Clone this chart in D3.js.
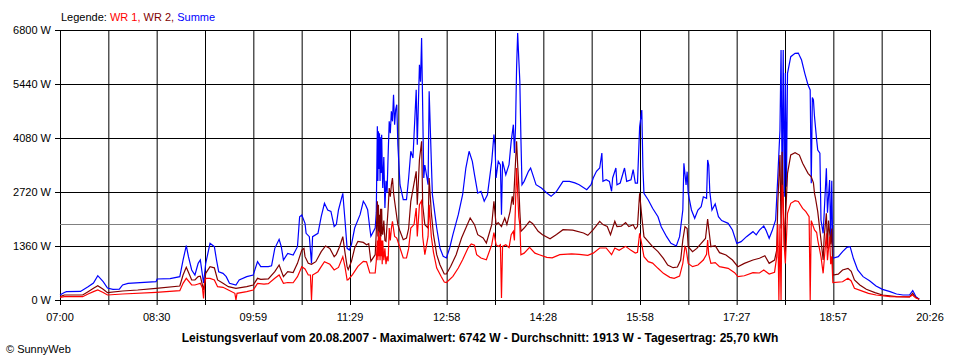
<!DOCTYPE html>
<html>
<head>
<meta charset="utf-8">
<script src="https://cdn.jsdelivr.net/npm/d3@7"></script>
<style>
  body { margin: 0; background: #fff; }
  text { font-family: "Liberation Sans", Arial, sans-serif; }
</style>
</head>
<body>
<div id="vis"></div>
<script>
// Data: [minutes after 07:00, watts]
const summe = [
  [0,126],[4,190],[6,210],[19,215],[26,335],[31,428],[35,613],[40,461],[44,302],[49,270],[55,275],[58,378],[63,420],
  [89,461],[90,529],[102,540],[111,588],[114,1007],[117,1368],[119,1091],[122,756],[125,630],[128,923],[130,1007],[133,428],
  [135,923],[139,1427],[143,1343],[145,1007],[147,713],[151,672],[154,588],[157,420],[163,378],[166,504],[173,588],[179,630],
  [183,965],[186,839],[193,839],[196,860],[199,1301],[203,1528],[205,1343],[207,1007],[211,1175],[216,1133],[220,1343],
  [222,2098],[224,2141],[227,1931],[228,1679],[231,1595],[233,923],[234,1595],[239,1679],[242,2098],[245,2435],[248,2267],
  [251,2230],[254,1847],[256,1900],[258,2267],[262,2687],[264,2015],[266,1301],[268,1259],
  [270,1393],[273,1813],[278,2149],[281,2486],[283,2400],[285,2275],[287,1813],[288,1604],[292,1813],[293,2200],[294,4374],
  [294.5,3000],[295,4250],[295.5,3300],[296,4200],[296.5,3000],[297,4100],[297.5,3200],[298,4164],[298.5,3400],[299,2821],
  [300,3600],[301,2317],[302,3000],[303,2700],[304,3659],[305,4500],[306,4200],[307,4752],[308,4500],[309,5171],[310,4416],
  [311,4800],[312,4919],[313,3911],[315,2904],[318,2526],[321,2526],[323,3073],[325,3745],[327,3576],[330,5297],[331,3911],[333,5926],
  [334,5500],[335,6598],[336,4835],[337,3073],[338,3400],[341,2904],[342,5255],[344,3492],[345,2652],[349,1813],[352,1310],
  [355,1100],[358,1058],[361,1310],[364,1645],[369,2149],[373,2652],[376,3324],[379,3745],[382,3492],[384,3156],[387,2695],
  [390,2737],[393,2486],[396,2650],[400,3492],[402,4164],[403,3900],
  [404,3073],[406,3492],[408,3400],[409,2149],[410,3492],[413,3156],[416,3408],[418,3996],[420,4416],[421,3700],[422,4332],
  [423,5843],[424,6724],[425,6095],[426,5507],[427,4080],[428,2904],[430,2988],[434,3240],[436,3324],[438,3156],[441,2904],
  [446,2821],[451,2695],[455,2611],[460,2737],[466,2988],[472,2988],[477,2950],[481,2904],[488,2778],[492,2904],[494,3073],
  [497,3240],[500,3324],[502,3702],[503,2988],[506,3030],[509,2988],[511,2737],[512,3073],[515,3324],[516,2904],[519,2946],
  [523,3324],[525,2988],[529,3030],[531,3282],[533,2946],[535,2946],[537,4365],
  [539,4785],[540,3357],[541,2687],[545,2518],[549,2309],[554,2098],[557,1847],[562,1595],[566,1427],[571,1360],[574,1595],
  [577,2267],[578,3442],[580,2900],[581,3232],[582,2687],[585,2267],[588,2057],[591,2267],[594,2351],[596,2600],[599,2560],
  [600,3526],[601,3400],[602,2729],[604,2267],[607,2418],[610,2098],[613,2000],[619,1931],[623,1763],[627,1427],[631,1470],
  [636,1595],[642,1721],[645,1640],[648,1760],[652,1864],[654,1760],[657,1553],[660,1763],[663,2015],[665,3105],[667,4281],
  [668,6296],[669,2946],[670,6296],[671,2600],[672,5717],[673,2854],[674,5709],[677,6128],[681,6213],[684,6220],[687,6044],
  [690,5709],[693,5415],[695,5289],[696,2939],[697,5100],[698,5037],[699,4617],[701,4030],[702,3778],[704,3700],[705,2015],
  [707,1679],[708,2200],[710,3316],[711,2200],[713,3022],[714,1511],[715,3000],[716,1050],[721,1091],[725,1217],[729,1327],
  [732,1343],[735,1050],[739,756],[744,588],[750,487],[756,353],[762,269],[769,210],[775,151],[781,126],[787,126],[790,235],
  [791,190],[793,84],[796,18]
];

const wr2 = [
  [0,84],[4,126],[21,126],[26,210],[31,294],[35,361],[40,269],[44,185],[58,227],[72,252],[89,294],[111,353],[114,630],
  [117,823],[119,700],[122,504],[125,504],[128,588],[130,600],[133,252],
  [135,672],[139,839],[143,810],[146,504],[151,420],[156,335],[163,294],[173,335],[179,378],[183,546],[186,520],[193,530],
  [199,713],[203,881],[207,588],[211,713],[216,690],[220,923],[224,1259],[226,1300],[227,1091],[230,923],[233,900],[237,965],
  [242,1217],[246,1360],[250,1300],[254,1091],[256,1150],[259,1343],[262,1595],[264,1200],[266,839],
  [267,764],[270,974],[273,1310],[276,1477],[281,1450],[284,1393],[286,1420],[288,974],[292,1141],[293,1700],[294,2486],
  [294.5,1600],[295,2400],[295.5,1700],[296,2149],[296.5,1500],[297,2300],[297.5,1600],[298,2300],[298.5,1700],[299,1645],
  [300,2000],[301,1500],[302,1477],[303,1900],[304,2300],[305,2821],[306,2600],[307,2900],[308,3073],[309,2700],[310,2486],[313,1900],[315,1730],[318,1519],
  [321,1560],[323,1800],[325,2486],[330,3240],[331,2400],[333,3534],[335,3996],[336,2400],[338,1897],[341,1813],[342,3073],
  [344,2200],[346,1645],[349,1141],[352,889],[356,655],[358,655],[362,848],[367,1141],[372,1561],[376,1813],[380,2065],
  [384,1897],[387,1645],[392,1561],[395,1436],[400,1897],[402,2486],
  [404,1897],[406,1950],[409,1850],[412,2065],[414,1900],[417,2234],[419,2611],[420,2400],[423,3996],[424,3400],[425,2900],
  [426,2234],[427,1730],[430,1813],[435,1982],[438,1920],[443,1730],[447,1645],[454,1544],[460,1650],[466,1771],[475,1760],
  [485,1687],[489,1629],[494,1771],[500,1982],[503,1900],[507,1850],[510,1645],[514,1982],[516,1850],[520,1860],[524,1950],
  [527,1850],[531,1897],[533,1790],[535,1850],[537,2687],
  [539,2098],[541,1595],[545,1469],[549,1343],[554,1217],[559,1050],[563,881],[568,814],[572,830],[575,1007],[577,1511],
  [579,1847],[581,1800],[582,1343],[586,1217],[590,1300],[594,1427],[598,1550],[600,2040],[601,1800],[603,1343],[607,1370],
  [611,1192],[617,1133],[623,1007],[628,839],[634,923],[642,1007],[648,1050],[653,1116],[657,923],[662,1007],[664,1259],
  [665,2443],[667,3652],[668,1800],[669,3735],[671,1343],[674,3190],[677,3652],[681,3710],[685,3650],[688,3442],[693,3190],
  [696,3105],[698,2950],[699,2687],[700,2550],[702,2224],[705,1511],[707,1007],[708,1600],[710,2183],[711,1300],[712,2000],
  [714,1400],[715,1800],[716,630],[721,650],[725,756],[730,798],[733,720],[736,504],[741,378],[747,269],[755,185],[762,126],
  [775,84],[787,80],[790,168],[791,120],[793,60],[796,18]
];

const wr1 = [
  [0,67],[4,84],[21,84],[26,151],[31,210],[35,252],[40,190],[44,126],[58,151],[89,193],[111,235],[114,420],[117,546],
  [122,378],[125,378],[128,403],[130,420],[132,300],[133,42],[134,400],
  [135,546],[139,546],[143,504],[146,335],[151,320],[156,252],[162,168],[163,0],[164,168],[173,210],[179,252],[183,420],
  [189,400],[193,410],[199,546],[203,630],[207,420],[211,440],[216,435],[220,588],[224,839],[227,780],[230,630],[232,630],
  [233,0],[234,630],[239,713],[242,839],[245,965],[250,900],[254,756],[258,820],[262,1091],[264,840],[266,504],
  [267,512],[271,638],[276,848],[281,974],[284,960],[287,680],[292,680],[293,974],[294,1500],[294.5,1000],[295,1730],
  [295.5,1100],[296,1600],[296.5,1000],[297,1600],[297.5,1100],[298,1500],[298.5,900],[299,1500],[300,1000],[301,1300],
  [302,900],[303,1100],[304,974],[305,1813],[306,1500],[307,1800],[308,1982],[310,1600],[312,1561],[315,1310],[318,1058],[321,1058],[323,1300],
  [325,1813],[328,1900],[330,2317],[331,1600],[333,2401],[335,2500],[336,1600],[338,1141],[341,1600],[342,2401],[344,1600],
  [346,1200],[349,806],[353,596],[356,453],[358,440],[364,596],[369,806],[373,1015],[378,1310],[381,1410],[384,1380],
  [386,1141],[390,1058],[395,1015],[400,1393],[402,1700],
  [404,1393],[406,1350],[408,1393],[409,50],[410,1350],[413,1393],[416,1320],[418,1645],[420,1730],[421,1500],[423,3324],
  [424,2700],[425,2100],[426,1900],[427,1141],[430,1180],[435,1327],[440,1180],[444,1141],[451,1075],[456,1060],[463,1141],
  [474,1160],[481,1150],[489,1125],[494,1180],[500,1310],[506,1310],[511,1141],[514,1310],[518,1250],[524,1351],[529,1250],
  [533,1184],[535,1200],[537,1679],
  [539,1400],[541,1091],[545,965],[549,930],[554,798],[559,672],[565,571],[569,546],[574,600],[577,923],[579,1343],[580,1300],
  [582,923],[586,839],[591,880],[596,1007],[599,1150],[600,1511],[601,1150],[603,923],[607,940],[611,839],[619,798],[625,688],
  [628,588],[634,610],[642,688],[648,680],[652,756],[657,655],[662,700],[664,1091],[665,1900],[666,0],[667,1900],[668,0],
  [669,2900],[670,2518],[671,1343],[672,923],[674,2183],[677,2435],[681,2502],[684,2480],[688,2309],[691,2224],[694,2098],
  [695,0],[696,2000],[699,1763],[701,1700],[702,1511],[705,1091],[707,672],[708,1000],[710,1679],[711,1000],[713,1600],
  [714,900],[715,1100],[716,436],[725,460],[730,546],[733,480],[736,294],[742,235],[749,168],[756,126],[769,84],[787,80],
  [790,126],[791,90],[793,50],[796,18]
];

const average = 1913;
const yTicks = [0, 1360, 2720, 4080, 5440, 6800];
const xTickLabels = ['07:00', '08:30', '09:59', '11:29', '12:58', '14:28', '15:58', '17:27', '18:57', '20:26'];
const dayLength = 806; // 07:00 .. 20:26 in minutes

const legendItems = [
  { text: 'Legende: ', color: '#000000' },
  { text: 'WR 1, ', color: '#ff0000' },
  { text: 'WR 2, ', color: '#800000' },
  { text: 'Summe', color: '#0000ff' }
];
const seriesList = [
  { name: 'Summe', data: summe, color: '#0000ff' },
  { name: 'WR 2', data: wr2, color: '#800000' },
  { name: 'WR 1', data: wr1, color: '#ff0000' }
];

const W = 960, H = 360;
const margin = { top: 30, right: 30, bottom: 60, left: 60 };
const width = W - margin.left - margin.right;
const height = H - margin.top - margin.bottom;

const svg = d3.select('#vis')
  .append('svg')
  .attr('width', W)
  .attr('height', H);

const g = svg.append('g')
  .attr('transform', `translate(${margin.left},${margin.top})`);

const x = d3.scaleLinear().domain([0, dayLength]).range([0, width]);
const y = d3.scaleLinear().domain([0, 6800]).range([height, 0]);

// vertical grid: 18 columns, labels on every second line
const gridTimes = d3.range(0, 19).map(i => i * dayLength / 18);

g.append('g')
  .attr('class', 'x-grid')
  .attr('transform', `translate(0,${height})`)
  .call(d3.axisBottom(x).tickValues(gridTimes).tickSize(-height).tickFormat(''))
  .call(a => a.select('.domain').remove())
  .call(a => a.selectAll('line').attr('stroke', '#000').attr('y2', -height).attr('y1', 5));

g.append('g')
  .attr('class', 'y-grid')
  .call(d3.axisLeft(y).tickValues(yTicks).tickSize(-width).tickFormat(''))
  .call(a => a.select('.domain').remove())
  .call(a => a.selectAll('line').attr('stroke', '#000').attr('x1', -5));

// right border
g.append('line')
  .attr('x1', width + 0.5).attr('x2', width + 0.5)
  .attr('y1', 0).attr('y2', height)
  .attr('stroke', '#000');

// y labels
g.selectAll('.y-label')
  .data(yTicks)
  .enter()
  .append('text')
  .attr('class', 'y-label')
  .attr('x', -9)
  .attr('y', d => y(d))
  .attr('dy', '0.35em')
  .attr('text-anchor', 'end')
  .style('font-size', '11px')
  .text(d => d + ' W');

// x labels
g.selectAll('.x-label')
  .data(xTickLabels)
  .enter()
  .append('text')
  .attr('class', 'x-label')
  .attr('x', (d, i) => x(gridTimes[i * 2]))
  .attr('y', height + 21)
  .attr('text-anchor', 'middle')
  .style('font-size', '11px')
  .text(d => d);

// average line
g.append('line')
  .attr('x1', 0).attr('x2', width)
  .attr('y1', Math.round(y(average)) + 0.5).attr('y2', Math.round(y(average)) + 0.5)
  .attr('stroke', '#808080');

const line = d3.line()
  .x(d => x(d[0]))
  .y(d => y(d[1]));

g.selectAll('.series')
  .data(seriesList)
  .enter()
  .append('path')
  .attr('class', 'series')
  .attr('d', d => line(d.data))
  .attr('fill', 'none')
  .attr('stroke', d => d.color)
  .attr('stroke-width', 1.2)
  .attr('stroke-linejoin', 'miter');

// legend
const legend = svg.append('text')
  .attr('x', 61)
  .attr('y', 21)
  .style('font-size', '11px');
legend.selectAll('tspan')
  .data(legendItems)
  .enter()
  .append('tspan')
  .attr('fill', d => d.color)
  .style('white-space', 'pre')
  .text(d => d.text);

// title
svg.append('text')
  .attr('x', 480)
  .attr('y', 342)
  .attr('text-anchor', 'middle')
  .style('font-size', '12px')
  .style('font-weight', 'bold')
  .text('Leistungsverlauf vom 20.08.2007 - Maximalwert: 6742 W - Durchschnitt: 1913 W - Tagesertrag: 25,70 kWh');

svg.append('text')
  .attr('x', 6)
  .attr('y', 353)
  .style('font-size', '11px')
  .text('© SunnyWeb');
</script>
</body>
</html>
